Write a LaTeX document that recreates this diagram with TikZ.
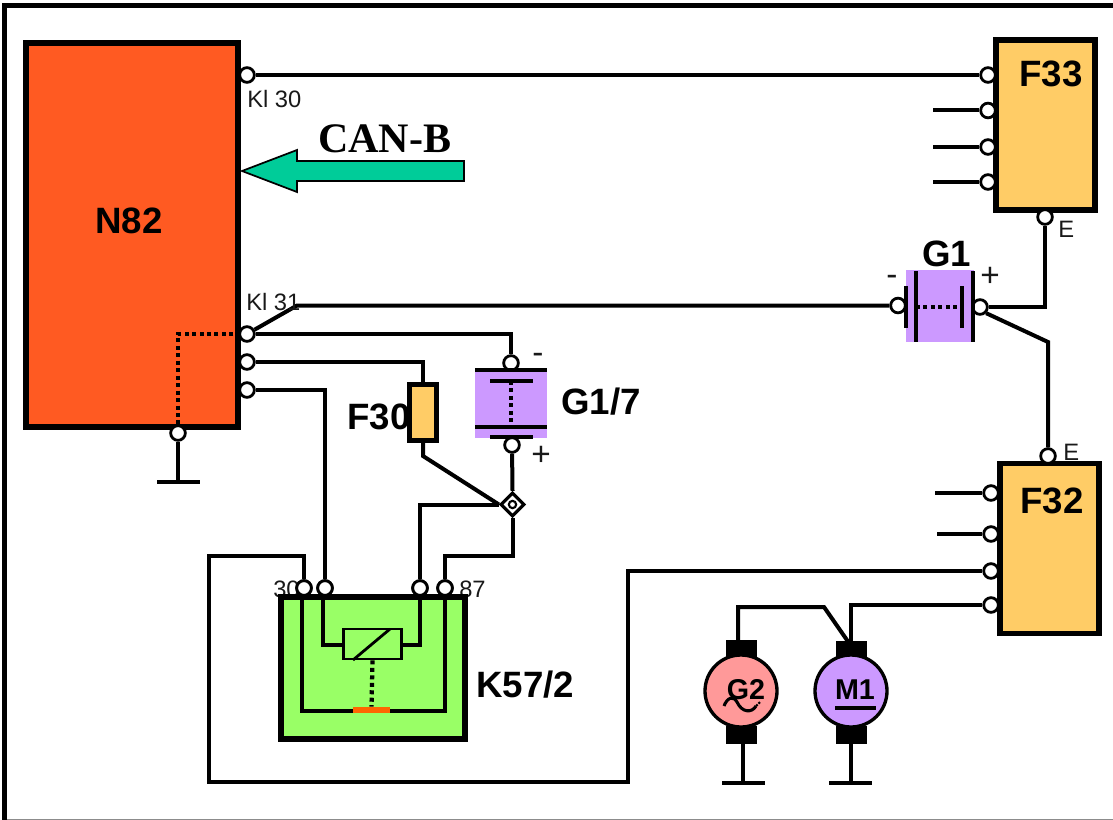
\documentclass[tikz,border=0pt]{standalone}
\usepackage{fontspec}
\setmainfont{Liberation Sans}
\newfontfamily\serifb{Liberation Serif}
\usetikzlibrary{shapes.geometric}
\definecolor{ecu}{HTML}{FF5A22}
\definecolor{fuse}{HTML}{FFCC66}
\definecolor{batt}{HTML}{CC99FF}
\definecolor{relay}{HTML}{99FF66}
\definecolor{gen}{HTML}{FF9999}
\definecolor{canarrow}{HTML}{00CC99}
\definecolor{contact}{HTML}{FF6600}
\tikzset{
  wire/.style={draw=black,line width=3pt,line join=miter},
  thinwire/.style={draw=black,line width=2.5pt},
  dotwire/.style={draw=black,line width=3.2pt,dash pattern=on 3pt off 2.6pt},
  pin/.style={circle,draw=black,fill=white,line width=2.1pt,minimum size=11pt,inner sep=0pt},
  unit/.style={rectangle,draw=black,line width=4.3pt,inner sep=0pt},
  brush/.style={rectangle,fill=black,inner sep=0pt,minimum width=23.5pt,minimum height=13.5pt},
  rotor/.style={circle,draw=black,line width=2.5pt,minimum size=54pt,inner sep=0pt},
  big/.style={inner sep=0pt,anchor=base west,font=\fontsize{27.5}{28}\selectfont\bfseries},
  small/.style={inner sep=0pt,anchor=base west,font=\fontsize{17.8}{18}\selectfont,text=black!90},
  signlabel/.style={inner sep=0pt,anchor=base west,font=\fontsize{25}{25}\selectfont,text=black!90},
  rotorlabel/.style={inner sep=0pt,font=\fontsize{21.5}{22}\selectfont\bfseries},
}
\begin{document}
\begin{tikzpicture}[x=0.75pt,y=-0.75pt]
\useasboundingbox (0,0) rectangle (1113,820);
% frame
\fill[black] (2,3.5) rectangle (1113,8.5);
\fill[black] (1.5,3.5) rectangle (7,820);
\fill[black!45] (7,819) rectangle (1113,820);

% labels lying under the pins
\node[small] (l30) at (273,597) {30};
\node[small] (l87) at (459,597) {87};

% main units
\node[unit,fill=ecu,minimum width=159pt,minimum height=288pt] (n82) at (132,235) {};
\node[unit,fill=fuse,minimum width=74.5pt,minimum height=127.5pt] (f33) at (1045.5,125) {};
\node[unit,fill=fuse,minimum width=74.5pt,minimum height=127.5pt] (f32) at (1049.5,548.5) {};
\node[rectangle,draw=black,line width=3.6pt,fill=fuse,minimum width=20pt,minimum height=42.5pt,inner sep=0pt] (f30) at (423,412.5) {};
\node[rectangle,fill=batt,minimum width=51pt,minimum height=54pt,inner sep=0pt] (g1) at (940,306) {};
\node[rectangle,fill=batt,minimum width=54pt,minimum height=51pt,inner sep=0pt] (g17) at (511,404) {};
\node[unit,fill=relay,minimum width=138pt,minimum height=106pt] (k57) at (373,668) {};

% pins
\node[pin] (n1) at (247,75) {};
\node[pin] (n2) at (247,334) {};
\node[pin] (n3) at (247,362) {};
\node[pin] (n4) at (247,390) {};
\node[pin] (ng) at (178,433) {};
\node[pin] (a1) at (988,75) {};
\node[pin] (a2) at (988,110.5) {};
\node[pin] (a3) at (988,147) {};
\node[pin] (a4) at (988,182) {};
\node[pin] (ae) at (1045,217) {};
\node[pin] (gm) at (898,305.5) {};
\node[pin] (gp) at (980,307) {};
\node[pin] (be) at (1048,456) {};
\node[pin] (b1) at (991,493) {};
\node[pin] (b2) at (991,534) {};
\node[pin] (b3) at (991,571) {};
\node[pin] (b4) at (991,605) {};
\node[pin] (hm) at (511,363) {};
\node[pin] (hp) at (512,445) {};
\node[pin] (k30) at (304,588) {};
\node[pin] (k85) at (325,588) {};
\node[pin] (k86) at (420,588) {};
\node[pin] (k87) at (445,588) {};
\node[diamond,draw=black,fill=white,line width=2.4pt,minimum size=18pt,inner sep=0pt] (dj) at (512.5,504.5) {};
\node[circle,draw=black,line width=1.6pt,minimum size=5.5pt,inner sep=0pt] (djc) at (512.5,504.5) {};

% free ends
\coordinate (s2) at (933,110.5);
\coordinate (s3) at (933,147);
\coordinate (s4) at (933,182);
\coordinate (s5) at (935,493);
\coordinate (s6) at (937,534);

% wires top
\draw[wire] (n1) -- (a1);
\draw[wire] (s2) -- (a2);
\draw[wire] (s3) -- (a3);
\draw[wire] (s4) -- (a4);
\draw[wire] (s5) -- (b1);
\draw[wire] (s6) -- (b2);
\draw[wire] (n2) -- (297,305.5) -- (gm);
\draw[wire] (gp) -- (1045,307) -- (ae);
\draw[wire] (gp.south east) -- (1048,342) -- (be);
\draw[wire] (n2) -- (511,334) -- (hm);
\draw[wire] (n3) -- (423,362) -- (f30.north);
\draw[wire] (n4) -- (325,390) -- (k85);
\draw[wire] (f30.south) -- (423,456) -- (dj.west);
\draw[wire] (hp) -- (dj.north);
\draw[wire] (dj.west) -- (420,504.5) -- (k86);
\draw[wire] (dj.south) -- (512.5,556) -- (445,556) -- (k87);
\draw[wire] (k30) -- (304,556) -- (209,556) -- (209,782) -- (628,782) -- (628,571) -- (b3);
\draw[thinwire] (ng) -- (178,482);
\draw[wire] (157,482) -- (200,482);
\draw[dotwire] (n82.east |- n2) -- (178,334) -- (ng);

% G1 plates
\draw[thinwire] (916,271) -- (916,342);
\draw[thinwire] (973,271) -- (973,342);
\draw[wire] (906,286) -- (906,328);
\draw[wire] (962,286) -- (962,328);
\draw[dotwire] (916,307) -- (962,307);
% G1/7 plates
\draw[wire] (475,370) -- (547,370);
\draw[wire] (490,381) -- (533,381);
\draw[dotwire] (511,381) -- (511,427);
\draw[wire] (475,427) -- (547,427);
\draw[thinwire] (490,437) -- (533,437);

% CAN arrow
\draw[draw=black,line width=1.3pt,fill=canarrow,line join=miter] (242,171) -- (297,150) -- (297,161) -- (464,161) -- (464,181) -- (297,181) -- (297,192) -- cycle;

% relay interior
\draw[thinwire] (302,597) -- (302,711) -- (353,711);
\draw[thinwire] (445,597) -- (445,711) -- (390,711);
\draw[thinwire] (323,597) -- (323,645) -- (343,645);
\draw[thinwire] (420,597) -- (420,645) -- (402,645);
\node[rectangle,draw=black,line width=2.1pt,minimum width=44pt,minimum height=22.5pt,inner sep=0pt] (coil) at (372.5,644) {};
\draw[draw=black,line width=2.1pt] (353,660) -- (390,629);
\node[rectangle,fill=contact,minimum width=28pt,minimum height=4.6pt,inner sep=0pt] (cont) at (371.5,710) {};
\draw[dotwire] (coil.south) -- (cont.north);
% pins over box
\node[pin] at (304,588) {};
\node[pin] at (325,588) {};
\node[pin] at (420,588) {};
\node[pin] at (445,588) {};

% machines
\node[brush] (g2t) at (741.5,649) {};
\node[brush] (g2b) at (741.5,735) {};
\node[brush] (m1t) at (851.5,649.5) {};
\node[brush] (m1b) at (851.5,735) {};
\node[rotor,fill=gen] (g2) at (741,691) {};
\node[rotor,fill=batt] (m1) at (851,691) {};
\draw[wire] (738,642) -- (738,607) -- (824,607) -- (849,643);
\draw[wire] (851,642) -- (851,605) -- (b4);
\draw[wire] (743,743) -- (743,783);
\draw[wire] (851,743) -- (851,783);
\draw[wire] (722,783) -- (765,783);
\draw[wire] (829,783) -- (872,783);
\node[rotorlabel] (g2l) at (746,690) {G2};
\node[rotorlabel] (m1l) at (855,690) {M1};
\draw[draw=black,line width=2.5pt] (835,708) -- (876,708);
\draw[draw=black,line width=2.3pt] (724,706) .. controls (727,698) and (733,695) .. (737,702) .. controls (742,713) and (752,713) .. (756,706);
\draw[draw=black,line width=1.6pt,densely dotted] (756,706) -- (760,702);

% labels
\node[big] (tn82) at (95,233) {N82};
\node[big] (tf33) at (1019,87) {F33};
\node[big] (tf32) at (1020,513) {F32};
\node[big] (tg1) at (922,266) {G1};
\node[big] (tg17) at (561,414) {G1/7};
\node[big] (tf30) at (347,429) {F30};
\node[big] (tk57) at (476,697) {K57/2};
\node[inner sep=0pt,anchor=base west,font=\fontsize{31.5}{32}\selectfont\serifb\bfseries] (tcan) at (318,152) {CAN-B};
\node[small] (tk30) at (247,108) {Kl 30};
\node[small] (tk31) at (246,310) {Kl 31};
\node[small] (te1) at (1058,237) {E};
\node[small] (te2) at (1063,460) {E};
\node[signlabel] (tm1) at (886,285) {-};
\node[signlabel] (tp1) at (980,286) {+};
\node[signlabel] (tm2) at (532,363) {-};
\node[signlabel] (tp2) at (531,465) {+};
\end{tikzpicture}
\end{document}
